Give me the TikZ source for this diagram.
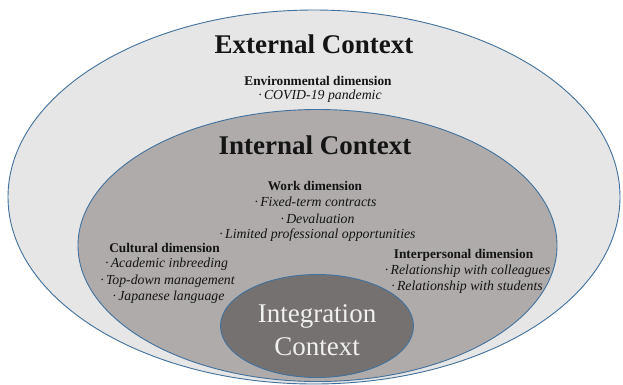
\documentclass[tikz,border=0pt]{standalone}
\usepackage{fontspec}
\setmainfont{Liberation Serif}
\definecolor{outerfill}{HTML}{E7E6E6}
\definecolor{innerfill}{HTML}{AFABAB}
\definecolor{integfill}{HTML}{767171}
\definecolor{edge}{HTML}{41719C}
\definecolor{txt}{HTML}{141414}
\begin{document}
\begin{tikzpicture}[x=1pt,y=-1pt,
  ring/.style={draw=edge,line width=0.9pt},
  title/.style={font=\bfseries\fontsize{27}{30}\selectfont,text=txt,inner sep=0pt},
  dimhead/.style={font=\bfseries\fontsize{13.3}{15}\selectfont,text=txt,inner sep=0pt},
  item/.style={font=\itshape\fontsize{13.8}{15}\selectfont,text=txt,inner sep=0pt}]
\useasboundingbox (0,0) rectangle (623,384);
\fill[white] (0,0) rectangle (623,384);
\draw[ring,fill=outerfill] (314,197) ellipse [x radius=306,y radius=187];
\draw[ring,fill=innerfill] (317.5,245.5) ellipse [x radius=239.5,y radius=136];
\draw[ring,fill=integfill] (317,326) ellipse [x radius=96.5,y radius=51.5];
\node[title] (ext) at (314,44) {External Context};
\node[dimhead] (env) at (318,81) {Environmental dimension};
\node[item] (e1) at (320,96) {·\,COVID-19 pandemic};
\node[title] (int) at (315,145) {Internal Context};
\node[dimhead] (work) at (315,186) {Work dimension};
\node[item] (w1) at (315.5,202) {·\,Fixed-term contracts};
\node[item] (w2) at (317.5,219) {·\,Devaluation};
\node[item] (w3) at (317.5,235) {·\,Limited professional opportunities};
\node[dimhead] (cult) at (164.5,248) {Cultural dimension};
\node[item] (c1) at (166.5,264) {·\,Academic inbreeding};
\node[item] (c2) at (167.5,281) {·\,Top-down management};
\node[item] (c3) at (168.5,297) {·\,Japanese language};
\node[dimhead] (inter) at (463.5,255) {Interpersonal dimension};
\node[item] (i1) at (467.5,271) {·\,Relationship with colleagues};
\node[item] (i2) at (467,287) {·\,Relationship with students};
\node[align=center,inner sep=0pt,text=white!94!black,font=\fontsize{27}{33}\selectfont] (integ) at (317,330) {Integration\\Context};
\end{tikzpicture}
\end{document}
